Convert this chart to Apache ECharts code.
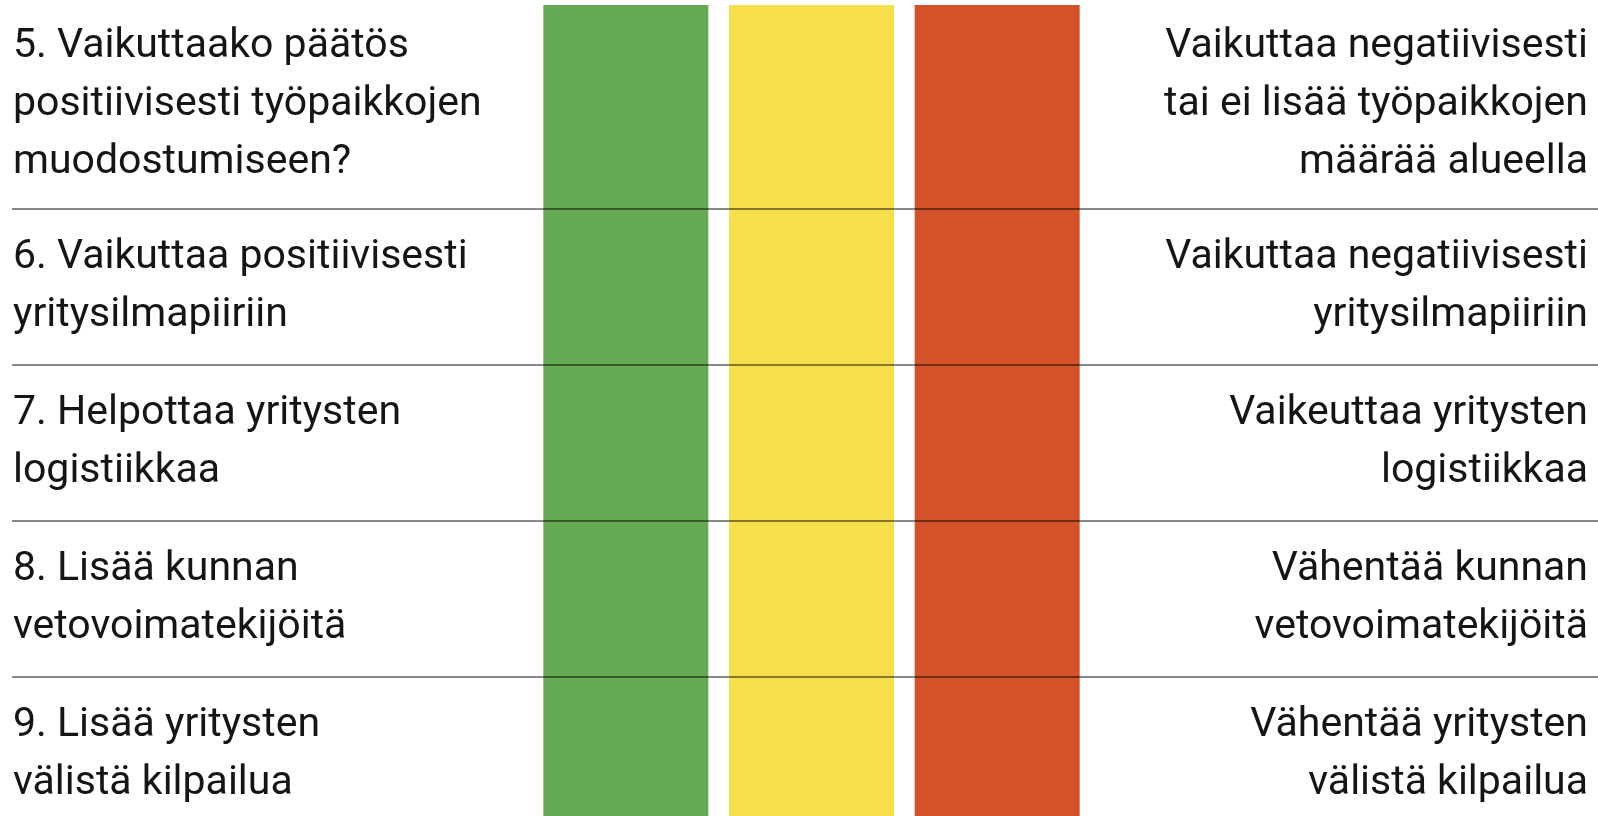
<!DOCTYPE html>
<html>
<head>
    <meta charset="utf-8">
    <title>Päätöksen vaikutukset</title>
    <script type="text/javascript" src="https://cdn.jsdelivr.net/npm/echarts@6/dist/echarts.min.js"></script>
    <style>
        body { margin: 0; background: #fff; }
    </style>
</head>
<body>
<div id="main" style="width: 1598px;height:816px;"></div>
<script type="text/javascript">
    // kysymykset vasemmalla, kielteinen vaihtoehto oikealla
    var leftLabels = [
        '5. Vaikuttaako päätös\npositiivisesti työpaikkojen\nmuodostumiseen?',
        '6. Vaikuttaa positiivisesti\nyritysilmapiiriin',
        '7. Helpottaa yritysten\nlogistiikkaa',
        '8. Lisää kunnan\nvetovoimatekijöitä',
        '9. Lisää yritysten\nvälistä kilpailua'
    ];
    var rightLabels = [
        'Vaikuttaa negatiivisesti\ntai ei lisää työpaikkojen\nmäärää alueella',
        'Vaikuttaa negatiivisesti\nyritysilmapiiriin',
        'Vaikeuttaa yritysten\nlogistiikkaa',
        'Vähentää kunnan\nvetovoimatekijöitä',
        'Vähentää yritysten\nvälistä kilpailua'
    ];
    var scaleCats = ['myönteinen', 'neutraali', 'kielteinen'];
    var scaleValues = [1, 1, 1];
    var scaleColors = ['#64aa54', '#f7de4b', '#d45229'];

    // rivien korkeus tekstirivien mukaan
    var lineUnit = 53, rowPad = 50, pageH = 816;
    var bounds = [0];
    var centers = [];
    for (let i = 0; i < leftLabels.length; i++) {
        let n = Math.max(leftLabels[i].split('\n').length, rightLabels[i].split('\n').length);
        let top = bounds[bounds.length - 1];
        let bottom = top + n * lineUnit + rowPad;
        centers.push((top + bottom) / 2);
        bounds.push(bottom);
    }
    var separators = bounds.slice(1, bounds.length - 1);

    function labelFor(list) {
        return function (v) {
            var i = centers.indexOf(v);
            return i >= 0 ? list[i] : '';
        };
    }

    var textStyle = {
        fontFamily: 'Roboto',
        fontSize: 41,
        lineHeight: 58,
        color: '#151515',
        padding: [20, 0, 0, 0]
    };

    var myChart = echarts.init(document.getElementById('main'));
    var option = {
        animation: false,
        grid: [
            {left: 12, right: 0, top: 0, bottom: 0, outerBoundsMode: 'none'},
            {left: 533, right: 508, top: 5, bottom: 0, outerBoundsMode: 'none'}
        ],
        xAxis: [
            {gridIndex: 0, type: 'value', min: 0, max: 1, show: false},
            {
                gridIndex: 1, type: 'category', data: scaleCats, show: false
            }
        ],
        yAxis: [
            {
                gridIndex: 0, type: 'value', inverse: true, min: 0, max: pageH,
                position: 'left',
                axisLine: {show: false}, axisTick: {show: false}, splitLine: {show: false},
                axisLabel: Object.assign({
                    inside: true, margin: 1, align: 'left',
                    customValues: centers,
                    formatter: labelFor(leftLabels)
                }, textStyle)
            },
            {
                gridIndex: 0, type: 'value', inverse: true, min: 0, max: pageH,
                position: 'right',
                axisLine: {show: false}, axisTick: {show: false}, splitLine: {show: false},
                axisLabel: Object.assign({
                    inside: true, margin: 10, align: 'right',
                    customValues: centers,
                    formatter: labelFor(rightLabels)
                }, textStyle)
            },
            {gridIndex: 1, type: 'value', min: 0, max: 1, show: false}
        ],
        series: [
            {
                type: 'bar',
                xAxisIndex: 1,
                yAxisIndex: 2,
                barWidth: 165,
                z: 1,
                silent: true,
                data: scaleValues.map((v, i) => ({
                    value: v,
                    itemStyle: {color: scaleColors[i]}
                }))
            },
            {
                type: 'scatter',
                xAxisIndex: 0,
                yAxisIndex: 0,
                symbolSize: 0,
                z: 5,
                silent: true,
                data: [[0, 0]],
                markLine: {
                    silent: true,
                    symbol: ['none', 'none'],
                    label: {show: false},
                    lineStyle: {color: 'rgba(0,0,0,0.62)', width: 1.5, type: 'solid'},
                    data: separators.map(b => ({yAxis: b}))
                }
            }
        ]
    };
    myChart.setOption(option);
</script>
</body>
</html>
